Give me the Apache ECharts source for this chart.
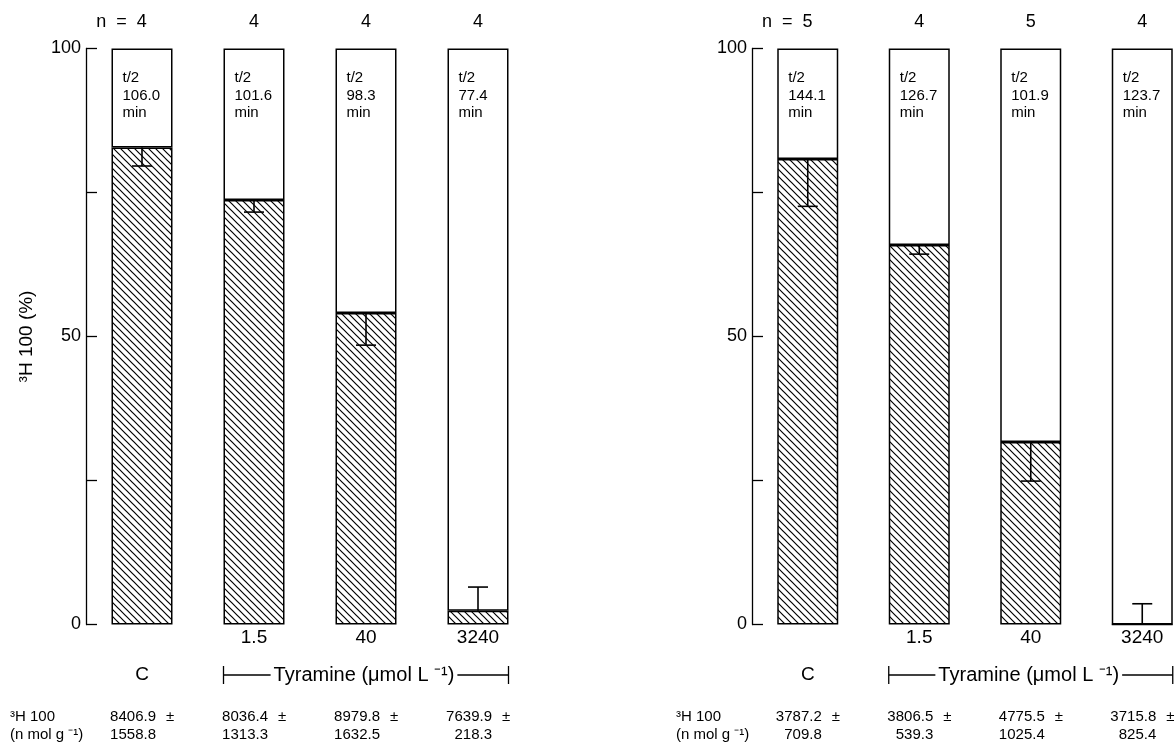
<!DOCTYPE html>
<html>
<head>
<meta charset="utf-8">
<script src="https://cdn.jsdelivr.net/npm/echarts@6/dist/echarts.min.js"></script>
<style>
  html, body { margin: 0; padding: 0; background: #fff; }
  #main { width: 1176px; height: 743px; }
</style>
</head>
<body>
<div id="main"></div>
<script>
// left panel
var catsL = ['C', '1.5', '40', '3240'];
var nL = ['n  =  4', '4', '4', '4'];
var halfL = ['106.0', '101.6', '98.3', '77.4'];
var remainL = [82.8, 73.7, 54.1, 2.4];
var errEndL = [79.6, 71.6, 48.5, 6.5];
var meanL = ['8406.9', '8036.4', '8979.8', '7639.9'];
var sdL = ['1558.8', '1313.3', '1632.5', '218.3'];

// right panel
var catsR = ['C', '1.5', '40', '3240'];
var nR = ['n  =  5', '4', '5', '4'];
var halfR = ['144.1', '126.7', '101.9', '123.7'];
var remainR = [80.8, 65.9, 31.7, 0];
var errEndR = [72.6, 64.3, 24.9, 3.6];
var meanR = ['3787.2', '3806.5', '4775.5', '3715.8'];
var sdR = ['709.8', '539.3', '1025.4', '825.4'];

var yTicks = [0, 50, 100];
var FONT = 'Liberation Sans';

function makeHatch() {
	var c = document.createElement('canvas');
	c.width = 7; c.height = 7;
	var ctx = c.getContext('2d');
	ctx.fillStyle = '#fff';
	ctx.fillRect(0, 0, 7, 7);
	ctx.strokeStyle = '#000';
	ctx.lineWidth = 1.2;
	ctx.beginPath();
	ctx.moveTo(-1, -1); ctx.lineTo(8, 8);
	ctx.moveTo(-1, 6); ctx.lineTo(1, 8);
	ctx.moveTo(6, -1); ctx.lineTo(8, 1);
	ctx.stroke();
	return c;
}
var hatch = makeHatch();

function bottomAxis(grid, cats) {
	return {
		gridIndex: grid, type: 'category', data: cats,
		axisLine: {show: false}, axisTick: {show: false},
		axisLabel: {
			margin: 4, fontSize: 19, color: '#000', fontFamily: FONT,
			formatter: function (v, i) { return i === 0 ? '{c|' + v + '}' : v; },
			rich: {c: {fontSize: 19, fontFamily: FONT, color: '#000', padding: [37, 0, 0, 0]}}
		}
	};
}
function topAxis(grid, ns) {
	return {
		gridIndex: grid, type: 'category', position: 'top', data: ns,
		axisLine: {show: false}, axisTick: {show: false},
		axisLabel: {
			margin: 17, fontSize: 18, color: '#000', fontFamily: FONT,
			formatter: function (v, i) { return i === 0 ? '{a|' + v + '}' : v; },
			rich: {a: {fontSize: 18, fontFamily: FONT, color: '#000', padding: [0, 41, 0, 0]}}
		}
	};
}
function valAxis(grid, name) {
	return {
		gridIndex: grid, type: 'value', min: 0, max: 100, interval: 25,
		name: name, nameLocation: 'middle', nameRotate: 90, nameGap: 50,
		nameTextStyle: {fontSize: 19, fontFamily: FONT, color: '#000'},
		splitLine: {show: false},
		axisLine: {show: true, lineStyle: {color: '#000', width: 1.3}},
		axisTick: {show: true, inside: true, length: 11, lineStyle: {color: '#000', width: 1.3}},
		axisLabel: {
			margin: 5, fontSize: 18, color: '#000', fontFamily: FONT,
			formatter: function (v) { return yTicks.indexOf(v) >= 0 ? v : ''; }
		}
	};
}
function hatchSeries(axis, stack, vals) {
	return {
		type: 'bar', xAxisIndex: axis, yAxisIndex: axis / 2, stack: stack, barWidth: 61,
		data: vals,
		itemStyle: {color: {image: hatch, repeat: 'repeat'}, borderColor: '#000', borderWidth: 1.5}
	};
}
function whiteSeries(axis, stack, vals, halves) {
	return {
		type: 'bar', xAxisIndex: axis, yAxisIndex: axis / 2, stack: stack, barWidth: 61,
		data: vals.map(function (v) { return +(100 - v).toFixed(1); }),
		itemStyle: {color: '#fff', borderColor: '#000', borderWidth: 1.5},
		label: {
			show: true, position: 'insideTopLeft', distance: 0, offset: [11, 21],
			fontSize: 15, lineHeight: 17.5, color: '#000', fontFamily: FONT,
			formatter: function (p) { return 't/2\n' + halves[p.dataIndex] + '\nmin'; }
		}
	};
}
function errSeries(axis, vals, ends) {
	return {
		type: 'custom', xAxisIndex: axis, yAxisIndex: axis / 2, z: 5,
		data: vals.map(function (v, i) { return [i, v, ends[i]]; }),
		renderItem: function (params, api) {
			var a = api.coord([api.value(0), api.value(1)]);
			var b = api.coord([api.value(0), api.value(2)]);
			var st = {stroke: '#000', lineWidth: 1.6};
			return {type: 'group', children: [
				{type: 'line', shape: {x1: a[0], y1: a[1], x2: b[0], y2: b[1]}, style: st},
				{type: 'line', shape: {x1: b[0] - 10, y1: b[1], x2: b[0] + 10, y2: b[1]}, style: st}
			]};
		}
	};
}

var dom = document.getElementById('main');
var myChart = echarts.init(dom);
var option = {
	animation: false,
	backgroundColor: '#fff',
	textStyle: {fontFamily: FONT, color: '#000'},
	grid: [
		{left: 86, top: 48.5, width: 448, height: 576, outerBoundsMode: 'none'},
		{left: 752, top: 48.5, width: 446, height: 576, outerBoundsMode: 'none'}
	],
	xAxis: [bottomAxis(0, catsL), topAxis(0, nL), bottomAxis(1, catsR), topAxis(1, nR)],
	yAxis: [valAxis(0, '³H 100 (%)'), valAxis(1, '')],
	series: [
		hatchSeries(0, 'L', remainL), whiteSeries(0, 'L', remainL, halfL), errSeries(0, remainL, errEndL),
		hatchSeries(2, 'R', remainR), whiteSeries(2, 'R', remainR, halfR), errSeries(2, remainR, errEndR)
	]
};
myChart.setOption(option);

// annotations under the bars: tyramine bracket and the table
function panelGraphics(axis, cats, means, sds) {
	var cx = cats.map(function (c) { return myChart.convertToPixel({xAxisIndex: axis}, c); });
	var gridLeft = cx[0] - (cx[1] - cx[0]) / 2;
	var x1 = cx[1] - 30.5, x2 = cx[3] + 30.5, y = 675;
	var line = {stroke: '#000', lineWidth: 1.3};
	var txt = function (s, x, yy, align) {
		return {type: 'text', x: x, y: yy, style: {text: s, fontSize: 15, fontFamily: FONT, fill: '#000', align: align, verticalAlign: 'middle'}};
	};
	var els = [
		{type: 'line', shape: {x1: x1, y1: y, x2: x2, y2: y}, style: line},
		{type: 'line', shape: {x1: x1, y1: y - 9, x2: x1, y2: y + 9}, style: line},
		{type: 'line', shape: {x1: x2, y1: y - 9, x2: x2, y2: y + 9}, style: line},
		{type: 'text', x: (x1 + x2) / 2 - 2, y: y, z: 10, style: {
			text: 'Tyramine (μmol L ⁻¹)', fontSize: 20, fontFamily: FONT, fill: '#000',
			align: 'center', verticalAlign: 'middle', backgroundColor: '#fff', padding: [0, 3]
		}},
		txt('³H 100', gridLeft - 76, 717, 'left'),
		txt('(n mol g ⁻¹)', gridLeft - 76, 735, 'left')
	];
	for (var i = 0; i < cats.length; i++) {
		var xr = cx[i] + 14;
		els.push(txt(means[i], xr, 717, 'right'));
		els.push(txt('±', xr + 10, 717, 'left'));
		els.push(txt(sds[i], xr, 735, 'right'));
	}
	return els;
}
myChart.setOption({
	graphic: panelGraphics(0, catsL, meanL, sdL).concat(panelGraphics(2, catsR, meanR, sdR))
});
</script>
</body>
</html>
